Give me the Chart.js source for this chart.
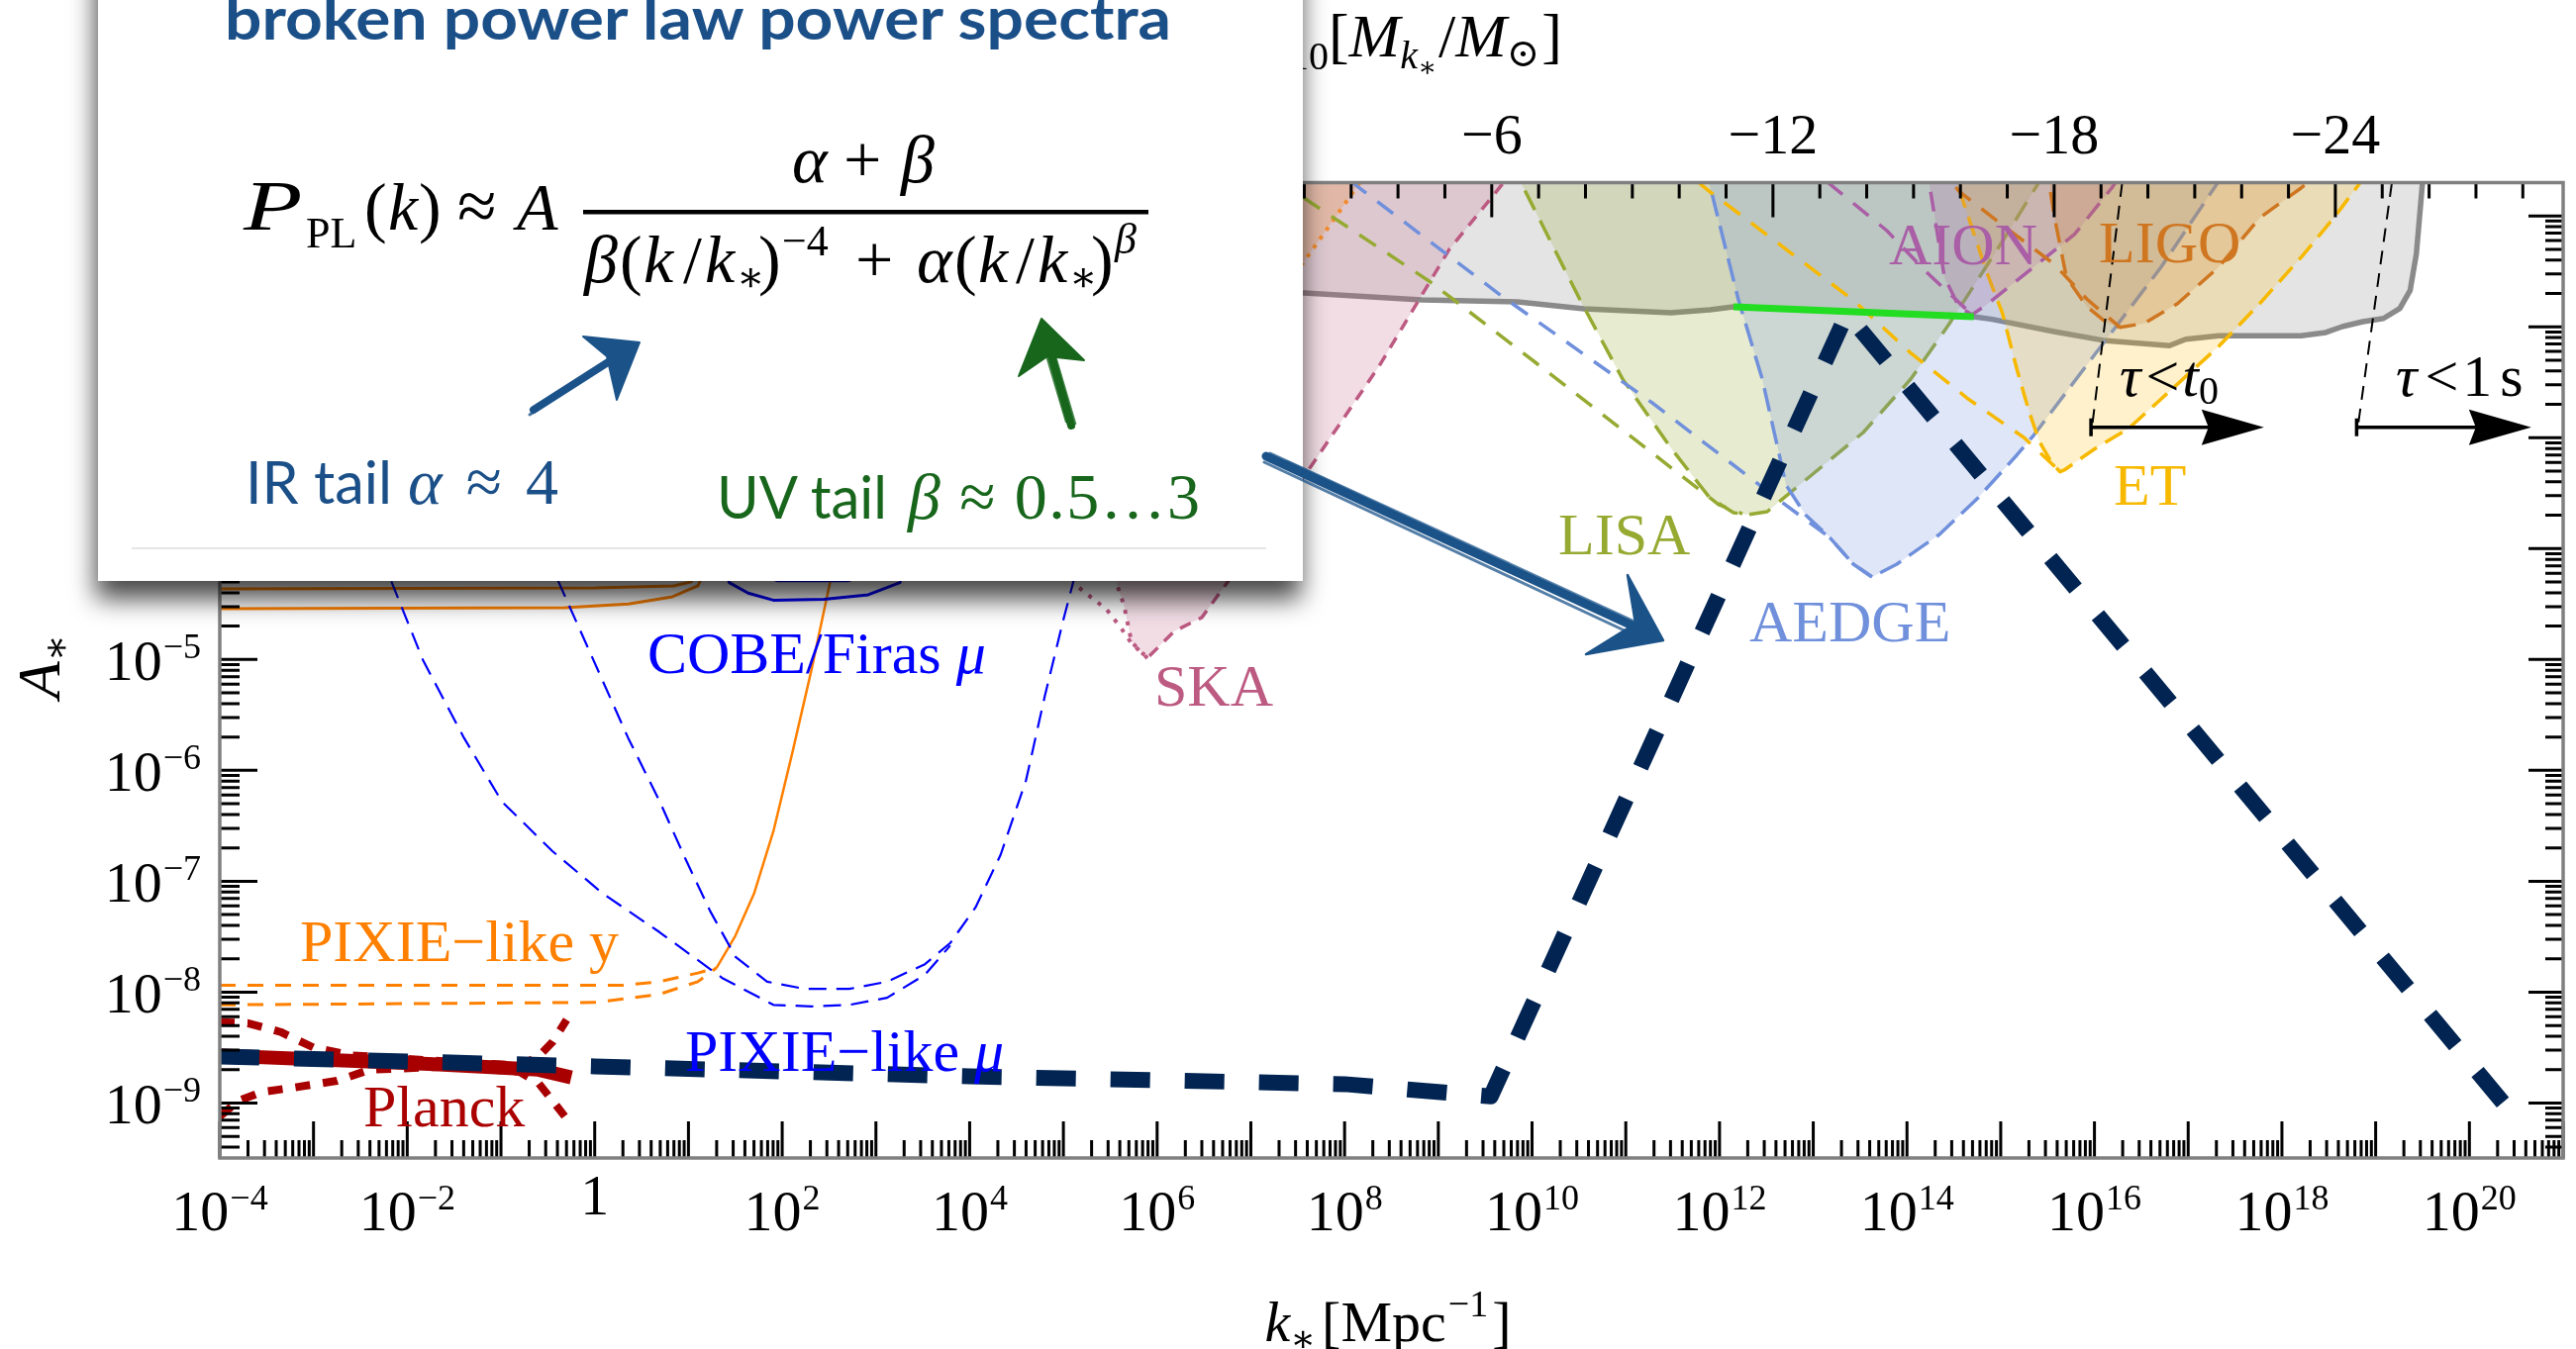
<!DOCTYPE html>
<html>
<head>
<meta charset="utf-8">
<script src="https://cdn.jsdelivr.net/npm/chart.js@4.4.1/dist/chart.umd.min.js"></script>
<style>
html, body { margin: 0; padding: 0; background: #fff; overflow: hidden; }
#wrap { position: relative; width: 2602px; height: 1363px; }
#c { position: absolute; left: 0; top: 0; }
#inset { position: absolute; left: 0; top: 0; }
</style>
</head>
<body>
<div id="wrap">
<canvas id="c" width="2602" height="1363"></canvas>
<svg id="inset" width="2602" height="1363" viewBox="0 0 2602 1363" xmlns="http://www.w3.org/2000/svg">
  <defs>
    <filter id="drop" x="-10%" y="-20%" width="120%" height="140%">
      <feDropShadow dx="-2" dy="18" stdDeviation="13" flood-color="#000" flood-opacity="0.72"/>
    </filter>
  </defs>
  <rect x="99" y="-60" width="1217" height="647" fill="#fff" filter="url(#drop)"/>
  <line x1="133" y1="554" x2="1279" y2="554" stroke="#e6e6e6" stroke-width="2"/>
  <text x="227" y="40" font-family="Lato, 'Open Sans', sans-serif" font-weight="700" font-size="60" fill="#1b4f88" textLength="956" lengthAdjust="spacingAndGlyphs">broken power law power spectra</text>

  <g font-family="'Liberation Serif','DejaVu Serif',serif" fill="#000">
    <text transform="translate(246 232) scale(1.35 1)" font-size="72" font-style="italic">P</text>
    <text x="309" y="250" font-size="44">PL</text>
    <text x="368" y="232" font-size="68">(</text>
    <text x="392" y="232" font-size="68" font-style="italic">k</text>
    <text x="423" y="232" font-size="68">)</text>
    <text x="462" y="232" font-size="72">≈</text>
    <text x="522" y="232" font-size="68" font-style="italic">A</text>
    <rect x="589" y="212" width="571" height="4.5"/>
    <text x="800" y="184" font-size="68" font-style="italic">α</text>
    <text x="852" y="184" font-size="68">+</text>
    <text x="910" y="184" font-size="68" font-style="italic">β</text>

    <text x="590" y="285" font-size="68" font-style="italic">β</text>
    <text x="626" y="285" font-size="68">(</text>
    <text x="650" y="285" font-size="68" font-style="italic">k</text>
    <text x="690" y="285" font-size="68">/</text>
    <text x="712" y="285" font-size="68" font-style="italic">k</text>
    <text x="744" y="294" font-size="42">∗</text>
    <text x="766" y="285" font-size="68">)</text>
    <text x="790" y="258" font-size="44">−4</text>
    <text x="864" y="285" font-size="68">+</text>
    <text x="926" y="285" font-size="68" font-style="italic">α</text>
    <text x="964" y="285" font-size="68">(</text>
    <text x="988" y="285" font-size="68" font-style="italic">k</text>
    <text x="1026" y="285" font-size="68">/</text>
    <text x="1048" y="285" font-size="68" font-style="italic">k</text>
    <text x="1080" y="294" font-size="42">∗</text>
    <text x="1102" y="285" font-size="68">)</text>
    <text x="1126" y="256" font-size="44" font-style="italic">β</text>
  </g>

  <text x="248" y="509" font-family="Lato, 'Open Sans', sans-serif" font-size="60" fill="#1b4f88" textLength="148" lengthAdjust="spacingAndGlyphs">IR tail</text>
  <text x="412" y="509" font-family="'Liberation Serif','DejaVu Serif',serif" font-size="66" fill="#1b4f88" textLength="152" lengthAdjust="spacing"><tspan font-style="italic">α</tspan> ≈ 4</text>
  <text x="724" y="524" font-family="Lato, 'Open Sans', sans-serif" font-size="60" fill="#17661c" textLength="172" lengthAdjust="spacingAndGlyphs">UV tail</text>
  <text x="917" y="524" font-family="'Liberation Serif','DejaVu Serif',serif" font-size="66" fill="#17661c" textLength="295" lengthAdjust="spacing"><tspan font-style="italic">β</tspan> ≈ 0.5…3</text>

  <!-- hand-drawn pointers -->
  <g fill="none" stroke="#1b5389" stroke-linecap="round">
    <path d="M539 414 L636 352" stroke-width="8"/>
    <path d="M535 419 L630 357" stroke-width="3" opacity="0.8"/>
    <path d="M545 410 L640 348" stroke-width="2.5" opacity="0.8"/>
  </g>
  <path d="M646 346 L589 340 L613 360 L623 404 Z" fill="#1b5389" stroke="#1b5389" stroke-width="2" stroke-linejoin="round"/>

  <g fill="none" stroke="#17661c" stroke-linecap="round">
    <path d="M1082 430 L1056 338" stroke-width="8"/>
    <path d="M1086 428 L1060 340" stroke-width="2.5" opacity="0.8"/>
    <path d="M1077 426 L1052 342" stroke-width="2.5" opacity="0.8"/>
  </g>
  <path d="M1052 322 L1029 380 L1058 360 L1095 364 Z" fill="#17661c" stroke="#17661c" stroke-width="2" stroke-linejoin="round"/>

  <g fill="none" stroke="#1b5389" stroke-linecap="round">
    <path d="M1279 461 L1668 641" stroke-width="9"/>
    <path d="M1283 458 L1664 634" stroke-width="3" opacity="0.75"/>
    <path d="M1277 467 L1660 646" stroke-width="3" opacity="0.75"/>
    <path d="M1300 466 L1650 630" stroke-width="2" opacity="0.6"/>
  </g>
  <path d="M1680 647 L1644 581 L1652 630 L1602 661 Z" fill="#1b5389" stroke="#1b5389" stroke-width="2.5" stroke-linejoin="round"/>
</svg>
</div>
<script>
// Curves are given as [log10 k* (Mpc^-1), log10 A*] pairs.

// broken power-law spectrum with the CMB-scale plateau
const spectrum = [[-4,-8.58],[0,-8.67],[4,-8.76],[8,-8.83],[9.56,-8.94],[13.36,-1.88],[20.5,-9.14]];

// Planck: central value and envelope
const planckMid = [[-4,-8.573],[-1.77,-8.647],[-0.6,-8.70],[-0.25,-8.77]];
const planckUp = [[-4,-8.27],[-3.7,-8.28],[-3.35,-8.36],[-3.0,-8.50],[-2.6,-8.57],[-1.5,-8.63],[-0.8,-8.66],[-0.6,-8.58],[-0.45,-8.45],[-0.3,-8.25]];
const planckLo = [[-4,-9.12],[-3.8,-8.98],[-3.55,-8.90],[-3.2,-8.86],[-2.75,-8.80],[-2.4,-8.70],[-1.5,-8.67],[-0.8,-8.72],[-0.6,-8.82],[-0.45,-8.98],[-0.32,-9.12]];

// spectral distortions: y-type (orange), mu-type (blue)
const cobeYHigh = [[-4,-4.363],[0,-4.354],[0.84,-4.336],[1.03,-4.30],[1.2,-4.0],[1.4,-3.0]];
const cobeYLow = [[-4,-4.541],[-0.32,-4.532],[0.36,-4.5],[0.83,-4.434],[1.1,-4.336],[1.3,-4.0],[1.5,-3.0]];
const pixieYHigh = [[-4,-7.939],[0.29,-7.939],[0.69,-7.906],[1.1,-7.828],[1.3,-7.78]];
const pixieYLow = [[-4,-8.115],[0.02,-8.093],[0.69,-8.019],[1.1,-7.906],[1.3,-7.78]];
const yRise = [[1.3,-7.78],[1.5,-7.493],[1.7,-7.111],[1.91,-6.537],[2.11,-5.835],[2.31,-5.103],[2.51,-4.306],[2.7,-3.4]];
const cobeMuOuter = [[1.25,-3.6],[1.435,-4.306],[1.637,-4.401],[1.906,-4.465],[2.445,-4.458],[2.918,-4.416],[3.256,-4.306],[3.45,-3.6]];
const cobeMuInner = [[1.5,-3.6],[1.68,-4.2],[1.95,-4.29],[2.7,-4.29],[3.05,-4.2],[3.25,-3.6]];
const pixieMuA = [[-2.5,-3.6],[-2.135,-4.369],[-1.832,-5.006],[-1.394,-5.708],[-0.99,-6.282],[-0.451,-6.729],[0.087,-7.111],[0.694,-7.461],[1.367,-7.876],[1.906,-8.115],[2.311,-8.129],[2.715,-8.115],[3.119,-8.051],[3.523,-7.844],[3.793,-7.58]];
const pixieMuB = [[-0.75,-3.6],[-0.316,-4.433],[0.021,-5.071],[0.357,-5.708],[0.694,-6.282],[0.964,-6.791],[1.232,-7.27],[1.503,-7.683],[1.839,-7.906],[2.242,-7.971],[2.715,-7.971],[3.119,-7.906],[3.523,-7.748],[3.793,-7.557],[4.062,-7.237],[4.331,-6.76],[4.601,-6.091],[4.803,-5.326],[5.005,-4.624],[5.104,-4.306],[5.25,-3.6]];

// pulsar timing / SKA
const ptaEdge = [[4.5,-1.43],[7.555,-1.427],[8.136,-0.73],[8.33,-0.5]];
const skaEdge = [[5.3,-0.5],[5.45,-3.0],[5.575,-4.331],[5.65,-4.523],[5.726,-4.841],[5.85,-4.95],[5.918,-4.969]];
const skaRight = [[5.918,-4.969],[6.182,-4.746],[6.477,-4.621],[6.784,-4.264],[7.65,-3.247],[8.368,-2.354],[9.117,-1.301],[9.667,-0.73],[9.89,-0.5]];
const skaOuter = [[4.5,-3.2],[5.157,-4.345],[5.463,-4.551],[5.611,-4.711],[5.727,-4.854],[5.897,-4.988]];

// PBH abundance bound and the part of it touched by the spectrum
const pbhBound = [[5.5,-1.66],[7.566,-1.694],[8.822,-1.757],[9.847,-1.775],[10.554,-1.837],[11.484,-1.873],[11.896,-1.846],[12.149,-1.819],[14.713,-1.908],[14.91,-1.932],[15.568,-2.042],[16.095,-2.122],[16.799,-2.17],[16.974,-2.111],[17.325,-2.081],[18.204,-2.081],[18.468,-2.051],[18.643,-1.998],[18.863,-1.953],[19.083,-1.924],[19.258,-1.834],[19.368,-1.67],[19.434,-1.343],[19.52,-0.5]];
const pbhTouch = [[12.149,-1.819],[14.713,-1.908]];

// gravitational-wave detector reach
const lisa = [[9.76,-0.5],[9.894,-0.719],[10.512,-1.757],[10.966,-2.471],[11.484,-3.096],[11.896,-3.542],[12.149,-3.676],[12.297,-3.694],[12.508,-3.667],[12.815,-3.453],[13.533,-2.953],[14.04,-2.471],[14.452,-1.971],[14.958,-1.31],[15.37,-0.748],[15.55,-0.5]];
const lisaTail = [[6.96,-0.5],[7.566,-0.838],[8.917,-1.596],[10.047,-2.328],[11.272,-3.131],[11.991,-3.604],[12.244,-3.685]];
const aedge = [[11.83,-0.5],[11.896,-0.721],[12.202,-1.757],[12.456,-2.471],[12.709,-3.426],[12.915,-3.694],[13.174,-3.899],[13.427,-4.14],[13.628,-4.256],[13.892,-4.14],[14.346,-3.872],[14.758,-3.542],[15.17,-3.158],[15.35,-2.98],[16.095,-2.147],[16.71,-1.462],[17.325,-0.688],[17.47,-0.5]];
const aedgeTail = [[7.78,-0.5],[8.206,-0.778],[9.689,-1.73],[11.277,-2.682],[12.656,-3.575],[13.174,-3.899],[13.427,-4.14],[13.628,-4.256]];
const et = [[14.455,-0.5],[14.581,-0.822],[14.844,-1.492],[15.019,-1.879],[15.173,-2.384],[15.305,-2.771],[15.415,-3.039],[15.547,-3.232],[15.634,-3.307],[15.677,-3.292],[16.007,-3.098],[16.359,-2.92],[16.71,-2.652],[17.325,-2.176],[17.763,-1.79],[18.204,-1.373],[18.555,-1.016],[18.818,-0.719],[18.99,-0.5]];
const etTail = [[11.49,-0.5],[11.892,-0.778],[13.427,-1.759],[14.04,-2.236],[14.656,-2.652],[15.25,-3.0],[15.634,-3.307]];
const aion = [[14.2,-0.5],[14.246,-0.748],[14.399,-1.551],[14.553,-1.819],[14.695,-1.89],[14.865,-1.79],[15.35,-1.462],[15.788,-1.165],[16.184,-0.748],[16.38,-0.5]];
const aionTail = [[12.87,-0.5],[13.272,-0.778],[13.785,-1.132],[14.2,-1.5],[14.695,-1.89]];
const ligo = [[15.49,-0.5],[15.525,-0.748],[15.568,-0.986],[15.7,-1.551],[15.92,-1.819],[16.139,-1.968],[16.272,-2.004],[16.534,-1.968],[16.886,-1.79],[17.325,-1.462],[17.763,-1.016],[18.204,-0.748],[18.55,-0.5]];
const ligoTail = [[14.3,-0.5],[14.557,-0.778],[15.0,-1.07],[15.568,-1.433],[15.92,-1.75],[16.272,-2.004]];

// PBH lifetime cuts (tau < t0, tau < 1 s) and their arrows
const tauT0 = [[16.325,-0.5],[15.963,-2.979]];
const tau1s = [[19.206,-0.5],[18.797,-2.979]];
const tauArrows = [[15.963,17.808],[18.797,20.66]];
const tauArrowLevel = -2.905;

// axes: decades of k*, decades of A*, and log10 of the horizon mass
const kDecades = [-4,-3,-2,-1,0,1,2,3,4,5,6,7,8,9,10,11,12,13,14,15,16,17,18,19,20,21];
const kLabelDecades = [-4,-2,0,2,4,6,8,10,12,14,16,18,20];
const aLabelDecades = [-9,-8,-7,-6,-5,-4,-3,-2,-1];
const massLabels = [18,12,6,0,-6,-12,-18,-24];
const massOffset = 13.14; // log10 M = massOffset - 2 log10 k

const K_MIN = 1e-4, K_MAX = 1e21, A_MIN = Math.pow(10, -9.496), A_MAX = 0.2;

const P = arr => arr.map(([lk, la]) => ({ x: Math.pow(10, lk), y: Math.pow(10, la) }));
const datasets = [];
function add(data, o) {
  datasets.push(Object.assign({
    data: P(data), pointRadius: 0, pointHoverRadius: 0, pointHitRadius: 0,
    fill: false, borderWidth: 3, clip: 0, borderCapStyle: 'butt', borderJoinStyle: 'round',
    backgroundColor: 'rgba(0,0,0,0)'
  }, o));
}

// shaded excluded / sensitive regions
add(pbhBound, { fill: 'end', backgroundColor: 'rgba(120,120,120,0.2)', borderColor: '#8a8a8a', borderWidth: 5.5 });
add(ptaEdge, { fill: 'end', backgroundColor: 'rgba(255,140,0,0.22)', borderColor: '#ff9a1a', borderWidth: 4, borderDash: [4, 7] });
add(skaEdge.concat(skaRight), { fill: 'end', backgroundColor: 'rgba(190,85,125,0.2)', borderWidth: 0, borderColor: 'rgba(0,0,0,0)' });
add(skaEdge, { borderColor: '#bd5a82', borderWidth: 4, borderDash: [4, 8] });
add(skaOuter, { borderColor: '#bd5a82', borderWidth: 4, borderDash: [4, 8] });
add(skaRight, { borderColor: '#bd5a82', borderWidth: 3.5, borderDash: [12, 9] });
add(lisa, { fill: 'end', backgroundColor: 'rgba(150,170,50,0.23)', borderColor: '#96aa32', borderWidth: 3.5, borderDash: [22, 12] });
add(aedge, { fill: 'end', backgroundColor: 'rgba(110,142,220,0.22)', borderColor: '#7090dc', borderWidth: 3.5, borderDash: [24, 10] });
add(et, { fill: 'end', backgroundColor: 'rgba(248,186,0,0.2)', borderColor: '#f7b900', borderWidth: 3.5, borderDash: [20, 10] });
add(aion, { fill: 'end', backgroundColor: 'rgba(169,94,166,0.2)', borderColor: '#a95ea6', borderWidth: 3.5, borderDash: [20, 12] });
add(ligo, { fill: 'end', backgroundColor: 'rgba(207,118,33,0.2)', borderColor: '#cf7621', borderWidth: 3.5, borderDash: [20, 12] });
add(lisaTail, { borderColor: '#96aa32', borderWidth: 3.5, borderDash: [20, 14] });
add(aedgeTail, { borderColor: '#7090dc', borderWidth: 3.5, borderDash: [20, 14] });
add(etTail, { borderColor: '#f7b900', borderWidth: 3.5, borderDash: [20, 14] });
add(aionTail, { borderColor: '#a95ea6', borderWidth: 3.5, borderDash: [20, 14] });
add(ligoTail, { borderColor: '#cf7621', borderWidth: 3.5, borderDash: [20, 14] });
add(pbhTouch, { borderColor: '#22dd22', borderWidth: 7 });
add(tauT0, { borderColor: '#000', borderWidth: 2, borderDash: [14, 9] });
add(tau1s, { borderColor: '#000', borderWidth: 2, borderDash: [14, 9] });

// CMB spectral distortions
add(cobeYHigh, { borderColor: '#ff8000', borderWidth: 3 });
add(cobeYLow, { borderColor: '#ff8000', borderWidth: 3 });
add(yRise, { borderColor: '#ff8000', borderWidth: 2.5 });
add(pixieYHigh, { borderColor: '#ff8000', borderWidth: 3, borderDash: [16, 12] });
add(pixieYLow, { borderColor: '#ff8000', borderWidth: 3, borderDash: [16, 12] });
add(cobeMuOuter, { borderColor: '#0000ff', borderWidth: 3 });
add(cobeMuInner, { borderColor: '#0000ff', borderWidth: 3 });
add(pixieMuA, { borderColor: '#0000ff', borderWidth: 2.2, borderDash: [18, 10] });
add(pixieMuB, { borderColor: '#0000ff', borderWidth: 2.2, borderDash: [18, 10] });

// Planck
add(planckUp, { borderColor: '#a80000', borderWidth: 8, borderDash: [15, 13] });
add(planckLo, { borderColor: '#a80000', borderWidth: 8, borderDash: [15, 13] });
add(planckMid, { borderColor: '#a80000', borderWidth: 14 });

// the spectrum itself
add(spectrum, { borderColor: '#012452', borderWidth: 16, borderDash: [40, 35] });

datasets.forEach((d, i) => { d.order = -i; });

const SERIF = '"Liberation Serif","DejaVu Serif",serif';
function fnt(s, it) { return (it ? 'italic ' : '') + s + 'px ' + SERIF; }
function rich(ctx, x, y, parts, align) {
  let w = 0;
  for (const p of parts) { ctx.font = fnt(p.s, p.i); w += (p.dx || 0) + ctx.measureText(p.t).width; }
  let cx = align === 'center' ? x - w / 2 : align === 'right' ? x - w : x;
  for (const p of parts) {
    ctx.font = fnt(p.s, p.i);
    cx += p.dx || 0;
    ctx.fillText(p.t, cx, y + (p.dy || 0));
    cx += ctx.measureText(p.t).width;
  }
}
const minus = n => (n < 0 ? '\u2212' + (-n) : String(n));

const decorations = {
  id: 'decorations',
  afterDatasetsDraw(chart) {
    const { ctx, chartArea: a } = chart;
    const xs = chart.scales.x, ys = chart.scales.y, xm = chart.scales.xm;
    ctx.save();

    // lifetime arrows
    const ay = ys.getPixelForValue(Math.pow(10, tauArrowLevel));
    ctx.strokeStyle = '#000'; ctx.fillStyle = '#000'; ctx.lineWidth = 3.5;
    tauArrows.forEach(([l0, l1]) => {
      const x0 = xs.getPixelForValue(Math.pow(10, l0)), x1 = xs.getPixelForValue(Math.pow(10, l1));
      ctx.beginPath();
      ctx.moveTo(x0, ay); ctx.lineTo(x1 - 50, ay);
      ctx.moveTo(x0, ay - 9); ctx.lineTo(x0, ay + 9);
      ctx.stroke();
      ctx.beginPath();
      ctx.moveTo(x1, ay); ctx.lineTo(x1 - 63, ay - 18); ctx.lineTo(x1 - 56, ay); ctx.lineTo(x1 - 63, ay + 18);
      ctx.closePath(); ctx.fill();
    });

    // inward ticks
    ctx.strokeStyle = '#000'; ctx.lineWidth = 3;
    ctx.beginPath();
    kDecades.forEach(n => {
      for (let m = 1; m <= 9; m++) {
        const v = m * Math.pow(10, n);
        if (v > K_MAX * 1.0001) break;
        const px = xs.getPixelForValue(v);
        ctx.moveTo(px, a.bottom); ctx.lineTo(px, a.bottom - (m === 1 ? 37 : 18));
      }
    });
    for (let n = -10; n <= -1; n++) {
      for (let m = 1; m <= 9; m++) {
        const v = m * Math.pow(10, n);
        if (v < A_MIN || v > A_MAX * 0.999) continue;
        const py = ys.getPixelForValue(v);
        ctx.moveTo(a.left, py); ctx.lineTo(a.left + (m === 1 ? 38 : 20), py);
        ctx.moveTo(a.right, py); ctx.lineTo(a.right - (m === 1 ? 35 : 18), py);
      }
    }
    for (let m = Math.ceil(xm.min); m <= Math.floor(xm.max); m++) {
      const px = xm.getPixelForValue(m);
      ctx.moveTo(px, a.top); ctx.lineTo(px, a.top + (m % 6 === 0 ? 35 : 16));
    }
    ctx.stroke();

    // frame
    ctx.strokeStyle = '#808080'; ctx.lineWidth = 3.5;
    ctx.strokeRect(a.left, a.top, a.right - a.left, a.bottom - a.top);
    ctx.restore();
  },
  afterDraw(chart) {
    const { ctx } = chart;
    const xs = chart.scales.x, ys = chart.scales.y, xm = chart.scales.xm;
    ctx.save();
    ctx.textAlign = 'left'; ctx.textBaseline = 'alphabetic';

    // tick labels
    ctx.fillStyle = '#000';
    kLabelDecades.forEach(n => {
      const px = xs.getPixelForValue(Math.pow(10, n));
      if (n === 0) rich(ctx, px, 1227, [{ t: '1', s: 58 }], 'center');
      else rich(ctx, px, 1243, [{ t: '10', s: 58 }, { t: minus(n), s: 36, dy: -21, dx: 1 }], 'center');
    });
    aLabelDecades.forEach(n => {
      const py = ys.getPixelForValue(Math.pow(10, n));
      rich(ctx, 203, py + 21, [{ t: '10', s: 58 }, { t: minus(n), s: 36, dy: -22, dx: 1 }], 'right');
    });
    massLabels.forEach(m => {
      rich(ctx, xm.getPixelForValue(m), 155, [{ t: minus(m), s: 58 }], 'center');
    });

    // axis titles
    rich(ctx, 1402, 1355, [
      { t: 'k', s: 58, i: true }, { t: '\u2217', s: 38, dy: 10 },
      { t: '[Mpc', s: 58, dx: 6 }, { t: '\u22121', s: 38, dy: -25, dx: 2 }, { t: ']', s: 58, dx: 4 }
    ], 'center');
    rich(ctx, 1578, 57, [
      { t: 'log', s: 62 }, { t: '10', s: 40, dy: 13 }, { t: '[', s: 62 },
      { t: 'M', s: 62, i: true }, { t: 'k', s: 40, i: true, dy: 12 }, { t: '\u2217', s: 28, dy: 20 },
      { t: '/', s: 62, dx: 2 }, { t: 'M', s: 62, i: true }, { t: '\u2299', s: 40, dy: 10 }, { t: ']', s: 62, dx: 2 }
    ], 'right');
    ctx.save();
    ctx.translate(60, 706);
    ctx.rotate(-Math.PI / 2);
    rich(ctx, 0, 0, [{ t: 'A', s: 62, i: true }, { t: '\u2217', s: 40, dy: 10 }], 'left');
    ctx.restore();

    // curve labels
    const labels = [
      { c: '#0000ff', x: 654, y: 680, p: [{ t: 'COBE/Firas ', s: 60 }, { t: 'μ', s: 60, i: true }] },
      { c: '#ff8000', x: 303, y: 971, p: [{ t: 'PIXIE\u2212like y', s: 60 }] },
      { c: '#0000ff', x: 692, y: 1082, p: [{ t: 'PIXIE\u2212like ', s: 60 }, { t: 'μ', s: 60, i: true }] },
      { c: '#aa0000', x: 367, y: 1138, p: [{ t: 'Planck', s: 60 }] },
      { c: '#bd5a82', x: 1166, y: 713, p: [{ t: 'SKA', s: 60 }] },
      { c: '#96aa32', x: 1574, y: 560, p: [{ t: 'LISA', s: 60 }] },
      { c: '#7090dc', x: 1767, y: 648, p: [{ t: 'AEDGE', s: 60 }] },
      { c: '#f7b900', x: 2135, y: 510, p: [{ t: 'ET', s: 60 }] },
      { c: '#a95ea6', x: 1908, y: 267, p: [{ t: 'AION', s: 60 }] },
      { c: '#cf7621', x: 2120, y: 265, p: [{ t: 'LIGO', s: 60 }] },
      { c: '#000', x: 2141, y: 400, p: [{ t: 'τ', s: 60, i: true }, { t: '<', s: 60, dx: 5 }, { t: 't', s: 60, i: true, dx: 3 }, { t: '0', s: 40, dy: 8 }] },
      { c: '#000', x: 2420, y: 400, p: [{ t: 'τ', s: 60, i: true }, { t: '<', s: 60, dx: 8 }, { t: '1', s: 60, dx: 4 }, { t: 's', s: 60, dx: 8 }] }
    ];
    labels.forEach(l => { ctx.fillStyle = l.c; rich(ctx, l.x, l.y, l.p, 'left'); });
    ctx.restore();
  }
};

new Chart(document.getElementById('c'), {
  type: 'line',
  data: { datasets },
  options: {
    responsive: false,
    devicePixelRatio: 1,
    animation: false,
    events: [],
    layout: { padding: { left: 222, right: 13, top: 184.5, bottom: 193 } },
    plugins: { legend: { display: false }, tooltip: { enabled: false }, filler: { propagate: false } },
    scales: {
      x: { type: 'logarithmic', min: K_MIN, max: K_MAX, display: false },
      y: { type: 'logarithmic', min: A_MIN, max: A_MAX, display: false },
      xm: { type: 'linear', axis: 'x', position: 'top', reverse: true,
            min: massOffset - 2 * Math.log10(K_MAX), max: massOffset - 2 * Math.log10(K_MIN), display: false }
    }
  },
  plugins: [decorations]
});
</script>
</body>
</html>
